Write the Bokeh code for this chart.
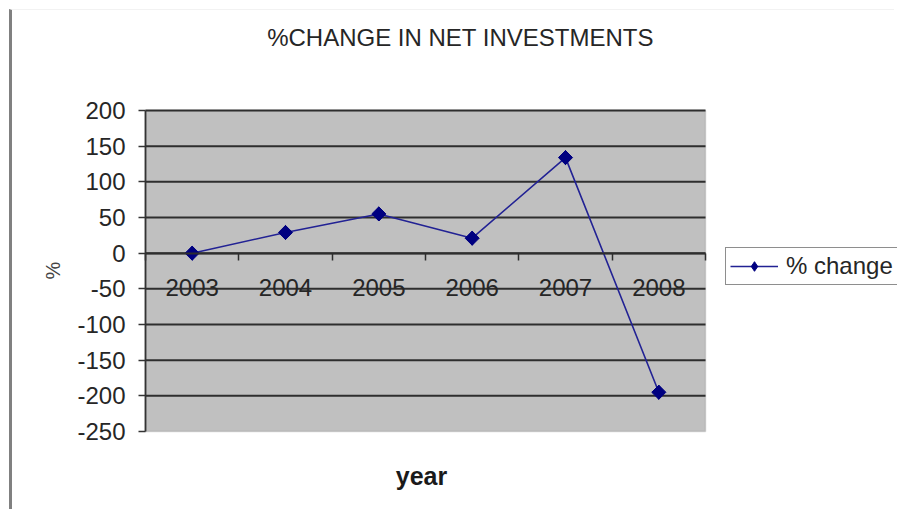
import math
from bokeh.plotting import figure
from bokeh.models import (Range1d, LinearAxis, FixedTicker, Label, Legend, LegendItem,
                          BoxAnnotation)
from bokeh.embed import file_html
from bokeh.resources import INLINE

# ---- data ----
years = ["2003", "2004", "2005", "2006", "2007", "2008"]
pct_change = [0, 29, 55, 21, 134, -195]
y_ticks = [-250, -200, -150, -100, -50, 0, 50, 100, 150, 200]
grid_ticks = [-200, -150, -100, -50, 0, 50, 100, 150, 200]

x_pos = list(range(len(years)))
boundaries = [i - 0.5 for i in range(len(years) + 1)]

# ---- layout (pixels on the canvas) ----
W, H = 885, 500
AREA_L, AREA_R, AREA_T, AREA_B = 133, 693, 100, 421   # grey plotting area on canvas
x_lo, x_hi = boundaries[0], boundaries[-1]
y_lo, y_hi = y_ticks[0], y_ticks[-1]
kx = (AREA_R - AREA_L) / (x_hi - x_lo)
ky = (AREA_B - AREA_T) / (y_hi - y_lo)
x_range = Range1d(x_lo - AREA_L / kx, x_hi + (W - AREA_R) / kx)
y_range = Range1d(y_lo - (H - AREA_B) / ky, y_hi + AREA_T / ky)

FONT = "Liberation Sans"
TXT = "#262626"
NAVY = "#000080"
DARK = "#2e2e2e"

p = figure(width=W, height=H, output_backend="svg", toolbar_location=None,
           x_range=x_range, y_range=y_range,
           x_axis_location=None, y_axis_location=None,
           min_border=0, min_border_left=0, min_border_right=0,
           min_border_top=0, min_border_bottom=0)
p.styles = {"margin-left": "9px", "margin-top": "9px",
            "border-left": "3px solid #808080", "border-top": "1px solid #f2f2f2"}
p.background_fill_color = "white"
p.border_fill_color = "white"
p.outline_line_color = None
p.xgrid.visible = False
p.ygrid.visible = False

# grey plotting area
area = BoxAnnotation(left=x_lo, right=x_hi, bottom=y_lo, top=y_hi,
                     fill_color="#c0c0c0", fill_alpha=1,
                     line_color="#8c8c8c", line_width=1.5, level="image")
p.add_layout(area)

# horizontal grid lines
p.segment(x0=[x_lo] * len(grid_ticks), x1=[x_hi] * len(grid_ticks),
          y0=grid_ticks, y1=grid_ticks, line_color=DARK, line_width=2)

# y axis
ya = LinearAxis(fixed_location=x_lo, bounds=(y_lo, y_hi), ticker=FixedTicker(ticks=y_ticks),
                major_label_overrides={t: str(t) for t in y_ticks})
ya.axis_line_color = "#333333"
ya.axis_line_width = 1.8
ya.major_tick_line_color = "#333333"
ya.major_tick_line_width = 1.5
ya.major_tick_out = 7
ya.major_tick_in = 0
ya.minor_tick_line_color = None
ya.major_label_text_font = FONT
ya.major_label_text_font_size = "24px"
ya.major_label_text_color = TXT
ya.major_label_standoff = 13
p.add_layout(ya, "left")

# x axis crossing at zero: tick marks between categories
xa_ticks = LinearAxis(fixed_location=0, bounds=(x_lo, x_hi), ticker=FixedTicker(ticks=boundaries))
xa_ticks.axis_line_color = DARK
xa_ticks.axis_line_width = 2
xa_ticks.major_tick_line_color = DARK
xa_ticks.major_tick_line_width = 1.5
xa_ticks.major_tick_out = 7
xa_ticks.major_tick_in = 0
xa_ticks.minor_tick_line_color = None
xa_ticks.major_label_text_font_size = "0px"
xa_ticks.major_label_text_color = None
xa_ticks.major_label_standoff = 0
p.add_layout(xa_ticks, "below")

# x axis labels (years) at category centres
xa_lab = LinearAxis(fixed_location=0, ticker=FixedTicker(ticks=x_pos),
                    major_label_overrides={i: y for i, y in zip(x_pos, years)})
xa_lab.axis_line_color = None
xa_lab.major_tick_line_color = None
xa_lab.minor_tick_line_color = None
xa_lab.major_tick_out = 0
xa_lab.major_tick_in = 0
xa_lab.minor_tick_out = 0
xa_lab.major_label_text_font = FONT
xa_lab.major_label_text_font_size = "24px"
xa_lab.major_label_text_color = TXT
xa_lab.major_label_standoff = 26
p.add_layout(xa_lab, "below")

# series
line_r = p.line(x_pos, pct_change, line_color="#222294", line_width=1.6)
# diamond markers (also used as the legend swatch)
key_r = p.scatter(x_pos, pct_change, marker="diamond", size=14,
                  fill_color=NAVY, line_color=NAVY)
mark_r = p.scatter(x_pos, pct_change, marker="square", size=10, angle=math.pi / 4,
                   fill_color=NAVY, line_color=NAVY)

legend = Legend(items=[LegendItem(label="% change", renderers=[line_r, key_r])],
                location=(713, 225))
legend.label_text_font = FONT
legend.label_text_font_size = "24px"
legend.label_text_color = TXT
legend.border_line_color = "#1e1e1e"
legend.border_line_width = 1.5
legend.background_fill_color = "white"
legend.background_fill_alpha = 1
legend.glyph_width = 48
legend.glyph_height = 24
legend.label_standoff = 8
legend.padding = 4
legend.margin = 0
legend.spacing = 0
p.add_layout(legend, "center")

title = Label(x=448, y=473, x_units="screen", y_units="screen",
              text="%CHANGE IN NET INVESTMENTS", text_font=FONT,
              text_font_size="24px", text_color=TXT,
              text_align="center", text_baseline="middle")
p.add_layout(title)

xlabel = Label(x=409, y=35, x_units="screen", y_units="screen",
               text="year", text_font=FONT, text_font_size="25px",
               text_font_style="bold", text_color="#1a1a1a",
               text_align="center", text_baseline="middle")
p.add_layout(xlabel)

ylabel = Label(x=40, y=240, x_units="screen", y_units="screen",
               text="%", text_font=FONT, text_font_size="20px", angle=math.pi / 2,
               text_color="#444444", text_align="center", text_baseline="middle")
p.add_layout(ylabel)

open("out.html", "w").write(file_html(p, INLINE))
